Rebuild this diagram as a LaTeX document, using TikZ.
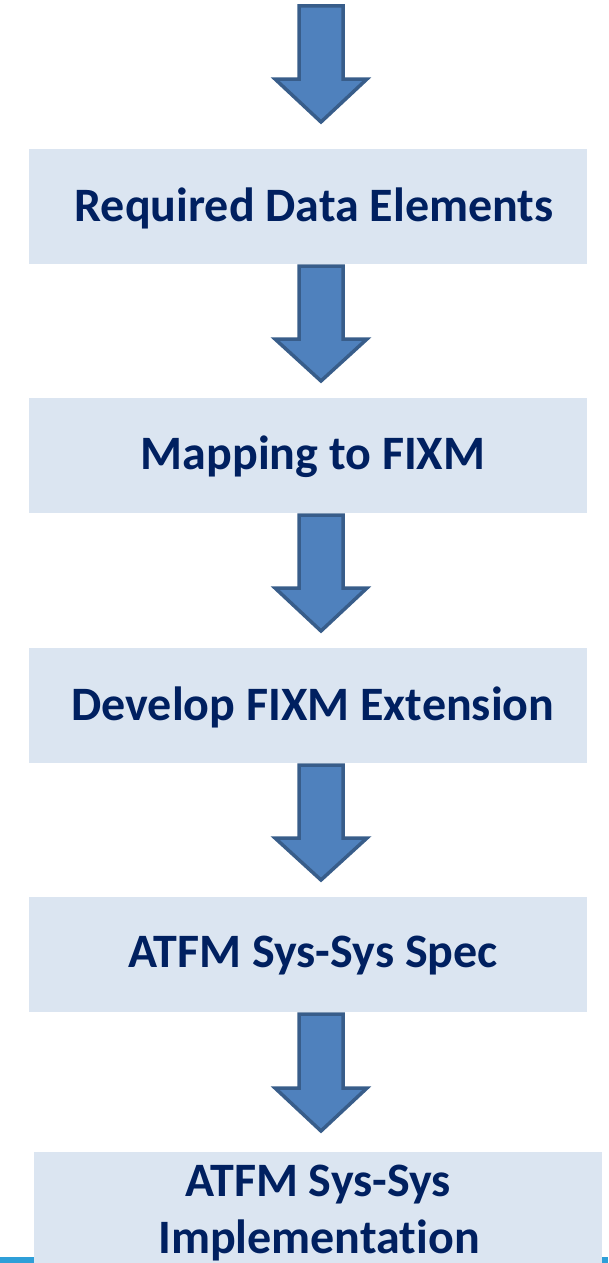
\documentclass[tikz,border=0pt]{standalone}
\usepackage{fontspec}
\setmainfont{Carlito}[Ligatures=NoCommon]
\definecolor{boxfill}{HTML}{DBE5F1}
\definecolor{txt}{HTML}{002060}
\definecolor{arrfill}{HTML}{4F81BD}
\definecolor{arrline}{HTML}{385D8A}
\definecolor{swoosh}{HTML}{2E9FD8}
\begin{document}
\begin{tikzpicture}[x=1pt,y=-1pt,
  stepbox/.style={fill=boxfill,draw=none},
  steptext/.style={text=txt,font=\fontsize{48}{58}\selectfont\bfseries,align=center},
  bigarrow/.style={fill=arrfill,draw=arrline,line width=3.5pt,line join=miter}]
\useasboundingbox (0,0) rectangle (608,1263);
% decorative strip at the bottom
\fill[swoosh] (0,1257) rectangle (608,1263);
% arrows: #1 top y, #2 head start, #3 tip
\newcommand{\downarrowshape}[4]{%
  \draw[bigarrow] (299,#1) -- (343,#1) -- (343,#2) -- (367,#2) -- (321,#3) -- (275,#2) -- (299,#2) -- cycle;
  \coordinate (#4) at (321,#1);}
\downarrowshape{6}{79}{122}{a0}
% boxes
\fill[stepbox] (29,149) rectangle (587,264);
\node[steptext] (b1) at (314,208) {Required Data Elements};
\fill[stepbox] (29,398) rectangle (587,513);
\node[steptext] (b2) at (313,457) {Mapping to FIXM};
\fill[stepbox] (29,648) rectangle (587,763);
\node[steptext] (b3) at (313,707) {Develop FIXM Extension};
\fill[stepbox] (29,897) rectangle (587,1012);
\node[steptext] (b4) at (313,956) {ATFM Sys-Sys Spec};
\fill[stepbox] (34,1152) rectangle (602,1263);
\node[steptext] (b5a) at (318,1185) {ATFM Sys-Sys};
\node[steptext] (b5b) at (319,1240) {Implementation};
\downarrowshape{266}{339}{381}{a1}
\downarrowshape{515}{588}{631}{a2}
\downarrowshape{765}{838}{880}{a3}
\downarrowshape{1014}{1088}{1131}{a4}
\end{tikzpicture}
\end{document}
